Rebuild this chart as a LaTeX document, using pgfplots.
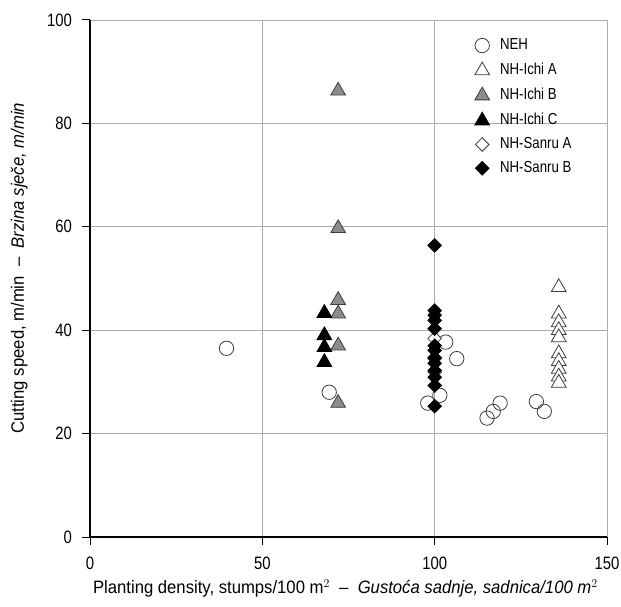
\documentclass[border=0pt]{standalone}
\usepackage{fontspec}
\setmainfont{Liberation Sans}[FakeStretch=0.83, Ligatures=TeX]
\newfontfamily\labelfont{Liberation Sans}[FakeStretch=0.93, Ligatures=TeX]
\usepackage{pgfplots}
\pgfplotsset{compat=1.18}
\definecolor{mgray}{RGB}{140,140,140}
\definecolor{edge}{RGB}{60,60,60}
\begin{document}
\begin{tikzpicture}[x=1bp,y=1bp]
\path[use as bounding box] (-90,-70) rectangle (531,537);
\begin{axis}[
  at={(0,0)}, anchor=south west,
  scale only axis,
  width=517bp, height=517bp,
  xmin=0, xmax=150, ymin=0, ymax=100,
  xtick={0,50,100,150}, ytick={0,20,40,60,80,100},
  axis x line*=bottom, axis y line*=left,
  axis line style={line width=1.3pt, black, -},
  grid=major,
  grid style={gray!65, line width=0.6pt},
  tick style={black, line width=1pt},
  tick align=outside, major tick length=7.5bp,
  /pgf/number format/assume math mode=true,
  ticklabel style={font=\fontsize{18}{20}\selectfont},
  xticklabel style={yshift=-9bp},
  yticklabel style={xshift=-7bp},
  xlabel={Planting density, stumps/100 m$^{2}$ \ – \ \textit{Gustoća sadnje, sadnica/100 m$^{2}$}},
  ylabel={Cutting speed, m/min \ – \ \textit{Brzina sječe, m/min}},
  xlabel style={font=\labelfont\fontsize{18}{20}\selectfont, at={(axis description cs:0.494,-0.099)}, anchor=center},
  ylabel style={font=\labelfont\fontsize{18}{20}\selectfont, at={(axis description cs:-0.137,0.52)}, anchor=center},
  legend style={draw=none, fill=none, at={(0.744,0.965)}, anchor=north west,
    inner sep=0pt, font=\fontsize{16}{18}\selectfont, row sep=9.3bp,
    nodes={inner sep=0pt, text height=11.5bp, text depth=3bp},
    legend cell align=left,
    /tikz/every odd column/.append style={column sep=10.5bp}},
  clip=false,
]
% NEH
\addplot[only marks, mark=o, mark size=7.2bp, mark options={draw=edge, fill=white, line width=0.8pt}]
  coordinates {(39.6,36.5) (69.4,28) (103.2,37.7) (106.4,34.5) (101.5,27.4) (98,25.9)
  (119,25.9) (117,24.3) (115.2,23) (129.5,26.2) (131.8,24.3)};
\addlegendentry{NEH}
% NH-Ichi A
\addplot[only marks, mark=triangle*, mark size=8.5bp, mark options={draw=edge, fill=white, line width=0.8pt}]
  coordinates {(136,48.3) (136,43.2) (136,41.5) (136,40) (136,38.6) (136,35.5) (136,34) (136,32.5) (136,31) (136,29.8)};
\addlegendentry{NH-Ichi A}
% NH-Ichi B
\addplot[only marks, mark=triangle*, mark size=8.5bp, mark options={draw=edge, fill=mgray, line width=0.8pt}]
  coordinates {(72,86.3) (72,59.7) (72,45.8) (72,43.2) (72,37) (72,25.9)};
\addlegendentry{NH-Ichi B}
% NH-Ichi C
\addplot[only marks, mark=triangle*, mark size=8.5bp, mark options={draw=black, fill=black, line width=0.8pt}]
  coordinates {(68,43.3) (68,39) (68,36.7) (68,33.8)};
\addlegendentry{NH-Ichi C}
% NH-Sanru A
\addplot[only marks, mark=square*, mark size=4.8bp, mark options={rotate=45, draw=edge, fill=white, line width=0.8pt}]
  coordinates {(100,38.4) (100,34.5) (100,31.9)};
\addlegendentry{NH-Sanru A}
% NH-Sanru B
\addplot[only marks, mark=square*, mark size=4.8bp, mark options={rotate=45, draw=black, fill=black, line width=0.8pt}]
  coordinates {(100,56.4) (100,43.8) (100,42.9) (100,41.9) (100,40.3) (100,37) (100,36.1)
  (100,34.7) (100,33.6) (100,32.2) (100,30.9) (100,29.3) (100,25.3)};
\addlegendentry{NH-Sanru B}
\end{axis}
\end{tikzpicture}
\end{document}
